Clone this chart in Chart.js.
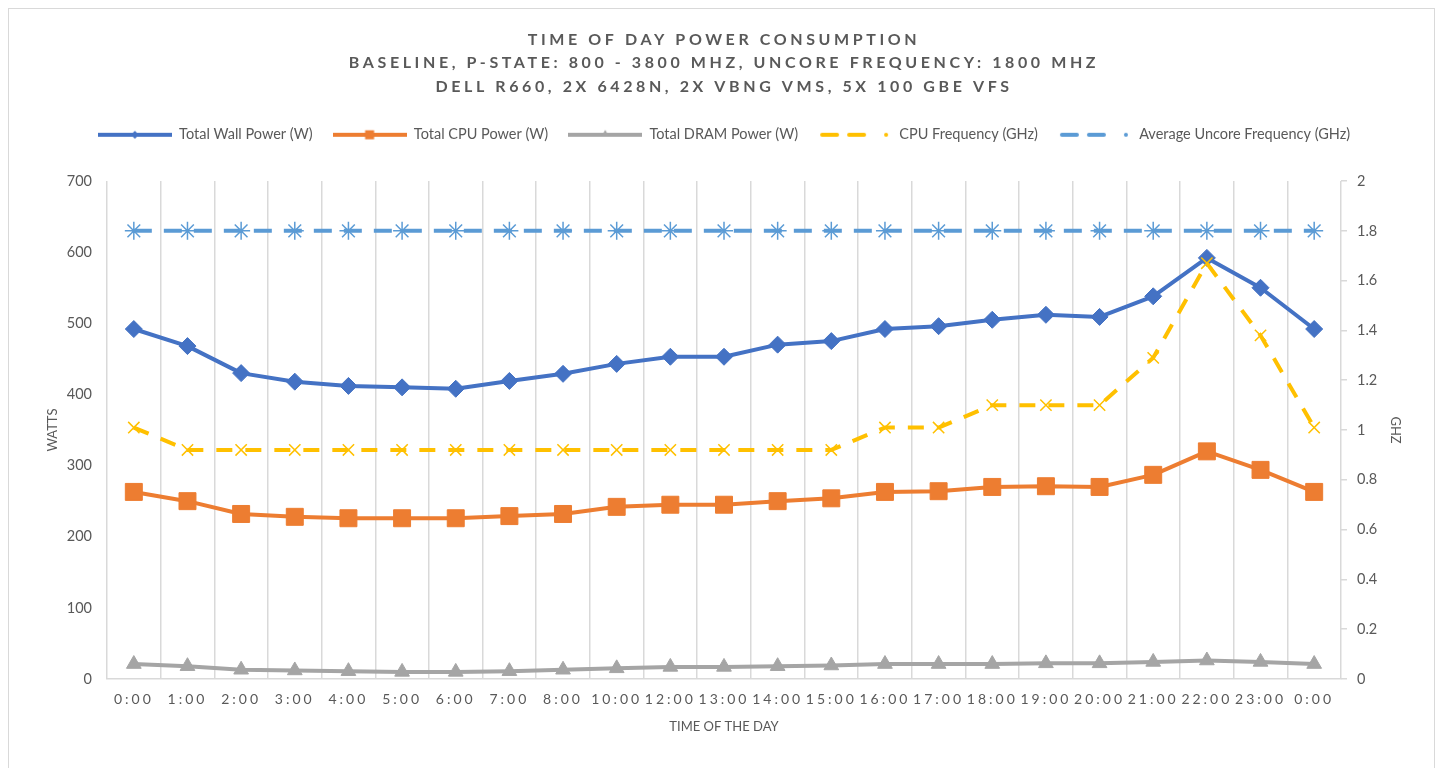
<!DOCTYPE html>
<html>
<head>
<meta charset="utf-8">
<script src="https://cdn.jsdelivr.net/npm/chart.js@4/dist/chart.umd.min.js"></script>
<style>
  body { margin: 0; background: #fff; }
  #frame { position: absolute; left: 8px; top: 8px; width: 1425px; height: 770px; border: 1px solid #d9d9d9; }
  canvas { display: block; }
</style>
</head>
<body>
<div id="frame"><canvas id="power-chart" width="1425" height="760"></canvas></div>
<script>
const hours = ['0:00', '1:00', '2:00', '3:00', '4:00', '5:00', '6:00', '7:00', '8:00', '10:00', '12:00', '13:00',
    '14:00', '15:00', '16:00', '17:00', '18:00', '19:00', '20:00', '21:00', '22:00', '23:00', '0:00'];
const wallPower = [492, 468, 430, 418, 412, 410, 408, 419, 429, 443, 453, 453, 470, 475, 492, 496, 505, 512, 509, 538, 592, 550, 492];
const cpuPower = [263, 250, 232, 228, 226, 226, 226, 229, 232, 242, 245, 245, 250, 254, 263, 264, 270, 271, 270, 287, 320, 294, 263];
const dramPower = [21, 18, 13, 12, 11, 10, 10, 11, 13, 15, 17, 17, 18, 19, 21, 21, 21, 22, 22, 24, 26, 24, 21];
const cpuFreq = [1.01, 0.92, 0.92, 0.92, 0.92, 0.92, 0.92, 0.92, 0.92, 0.92, 0.92, 0.92, 0.92, 0.92, 1.01, 1.01, 1.1, 1.1, 1.1, 1.29, 1.67, 1.38, 1.01];
const uncoreFreq = [1.8, 1.8, 1.8, 1.8, 1.8, 1.8, 1.8, 1.8, 1.8, 1.8, 1.8, 1.8, 1.8, 1.8, 1.8, 1.8, 1.8, 1.8, 1.8, 1.8, 1.8, 1.8, 1.8];

const titleLines = [
    'TIME OF DAY POWER CONSUMPTION',
    'BASELINE, P-STATE: 800 - 3800 MHZ, UNCORE FREQUENCY: 1800 MHZ',
    'DELL R660, 2X 6428N, 2X VBNG VMS, 5X 100 GBE VFS',
];

const textGray = '#595959';
const gridGray = '#d9d9d9';
const fontFamily = 'Lato, "Open Sans", sans-serif';

// small line + marker pictures for the legend, like the Excel ones
function legendIcon(color, marker, dash) {
    const c = document.createElement('canvas');
    c.width = 74;
    c.height = 14;
    const g = c.getContext('2d');
    g.strokeStyle = color;
    g.fillStyle = color;
    g.lineWidth = 4;
    g.lineCap = dash.length ? 'round' : 'butt';
    g.setLineDash(dash);
    g.beginPath();
    g.moveTo(dash.length ? 4 : 0, 7);
    g.lineTo(dash.length ? 46 : 74, 7);
    g.stroke();
    g.setLineDash([]);
    const x = 37, y = 7;
    g.beginPath();
    if (marker === 'diamond') {
        g.moveTo(x, y - 4); g.lineTo(x + 4, y); g.lineTo(x, y + 4); g.lineTo(x - 4, y); g.closePath(); g.fill();
    } else if (marker === 'square') {
        g.fillRect(x - 4.5, y - 4.5, 9, 9);
    } else if (marker === 'triangle') {
        g.moveTo(x, y - 5); g.lineTo(x + 4, y + 2); g.lineTo(x - 4, y + 2); g.closePath(); g.fill();
    }
    if (dash.length) {
        g.beginPath();
        g.arc(68, 7, 2, 0, Math.PI * 2);
        g.fill();
    }
    return c;
}

const legendIcons = [
    legendIcon('#4472C4', 'diamond', []),
    legendIcon('#ED7D31', 'square', []),
    legendIcon('#A5A5A5', 'triangle', []),
    legendIcon('#FFC000', 'cross', [15, 12]),
    legendIcon('#5B9BD5', 'star', [15, 12]),
];

// Excel-like letter spacing for the title and the category labels
function spaced(obj, fn, spacing) {
    if (!obj || obj['_spaced_' + fn]) return;
    const orig = obj[fn];
    obj[fn] = function (...args) {
        const c = this.ctx;
        c.letterSpacing = spacing;
        orig.apply(this, args);
        c.letterSpacing = '0px';
    };
    obj['_spaced_' + fn] = true;
}
const legendGap = 29; // extra room under the legend
const excelLookPlugin = {
    id: 'excelLook',
    beforeLayout(chart) {
        const legend = chart.legend;
        if (legend && !legend._gapAdded) {
            const fit = legend.fit;
            legend.fit = function (...args) {
                fit.apply(this, args);
                this.height += legendGap;
            };
            legend._gapAdded = true;
        }
    },
    beforeDraw(chart) {
        spaced(chart.titleBlock, 'draw', '3.6px');
        spaced(chart.scales.x, 'drawLabels', '3px');
    }
};

const ctx = document.getElementById('power-chart').getContext('2d');
const powerChart = new Chart(ctx, {
    type: 'line',
    data: {
        labels: hours,
        datasets: [
            {
                label: 'Total Wall Power (W)',
                data: wallPower,
                borderColor: '#4472C4',
                backgroundColor: '#4472C4',
                borderWidth: 4,
                pointStyle: 'rectRot',
                pointRadius: 8.5,
                pointBorderWidth: 1,
                yAxisID: 'y',
                order: 5
            },
            {
                label: 'Total CPU Power (W)',
                data: cpuPower,
                borderColor: '#ED7D31',
                backgroundColor: '#ED7D31',
                borderWidth: 4,
                pointStyle: 'rect',
                pointRadius: 12,
                pointBorderWidth: 1,
                yAxisID: 'y',
                order: 4
            },
            {
                label: 'Total DRAM Power (W)',
                data: dramPower,
                borderColor: '#A5A5A5',
                backgroundColor: '#A5A5A5',
                borderWidth: 4,
                pointStyle: 'triangle',
                pointRadius: 8.5,
                pointBorderWidth: 1,
                yAxisID: 'y',
                order: 3
            },
            {
                label: 'CPU Frequency (GHz)',
                data: cpuFreq,
                borderColor: '#FFC000',
                backgroundColor: '#FFC000',
                borderWidth: 4,
                borderDash: [16, 13],
                pointStyle: 'crossRot',
                pointRadius: 8,
                pointBorderWidth: 1.5,
                yAxisID: 'y1',
                order: 2
            },
            {
                label: 'Average Uncore Frequency (GHz)',
                data: uncoreFreq,
                borderColor: '#5B9BD5',
                backgroundColor: '#5B9BD5',
                borderWidth: 4,
                borderDash: [18, 12],
                pointStyle: 'star',
                pointRadius: 9,
                pointBorderWidth: 1.5,
                yAxisID: 'y1',
                order: 1
            },
        ]
    },
    options: {
        responsive: false,
        animation: false,
        devicePixelRatio: 1,
        layout: {
            padding: { left: 32, right: 27, top: 0, bottom: 34 }
        },
        elements: {
            line: { tension: 0, borderJoinStyle: 'round' }
        },
        plugins: {
            title: {
                display: true,
                text: titleLines,
                color: textGray,
                font: { family: fontFamily, size: 16, weight: 'bold', lineHeight: 1.47 },
                padding: { top: 19, bottom: 9 }
            },
            legend: {
                display: true,
                labels: {
                    color: textGray,
                    font: { family: fontFamily, size: 14.5 },
                    usePointStyle: true,
                    pointStyleWidth: 74,
                    boxHeight: 14,
                    padding: 20,
                    sort: (a, b) => a.datasetIndex - b.datasetIndex,
                    generateLabels(chart) {
                        const items = Chart.defaults.plugins.legend.labels.generateLabels(chart);
                        items.forEach(item => { item.pointStyle = legendIcons[item.datasetIndex]; });
                        return items;
                    }
                }
            },
            tooltip: { enabled: false }
        },
        scales: {
            x: {
                offset: true,
                grid: { display: true, offset: true, color: gridGray, lineWidth: 1.5, drawTicks: false },
                border: { display: true, color: gridGray, width: 1.5 },
                ticks: {
                    color: textGray,
                    font: { family: fontFamily, size: 14 },
                    autoSkip: false,
                    maxRotation: 0,
                    padding: 12
                },
                title: {
                    display: true,
                    text: 'TIME OF THE DAY',
                    color: textGray,
                    font: { family: fontFamily, size: 13 },
                    padding: { top: 8, bottom: 0 }
                },
                afterFit(scale) { scale.height = 56; }
            },
            y: {
                position: 'left',
                min: 0,
                max: 700,
                grid: { display: false, drawTicks: false },
                border: { display: false },
                ticks: {
                    stepSize: 100,
                    color: textGray,
                    font: { family: fontFamily, size: 14.5 },
                    padding: 15
                },
                title: {
                    display: true,
                    text: 'WATTS',
                    color: textGray,
                    font: { family: fontFamily, size: 13 },
                    padding: { top: 4, bottom: 4 }
                },
                afterFit(scale) { scale.width = 66; }
            },
            y1: {
                position: 'right',
                min: 0,
                max: 2,
                grid: { drawOnChartArea: false, color: gridGray, lineWidth: 1.5, tickLength: 6 },
                border: { display: false },
                ticks: {
                    stepSize: 0.2,
                    color: textGray,
                    font: { family: fontFamily, size: 14.5 },
                    padding: 10,
                    callback: v => String(+v.toFixed(1))
                },
                title: {
                    display: true,
                    text: 'GHZ',
                    color: textGray,
                    font: { family: fontFamily, size: 13 },
                    padding: { top: 4, bottom: 4 }
                },
                afterFit(scale) { scale.width = 66; }
            }
        }
    },
    plugins: [excelLookPlugin],
});
</script>
</body>
</html>
